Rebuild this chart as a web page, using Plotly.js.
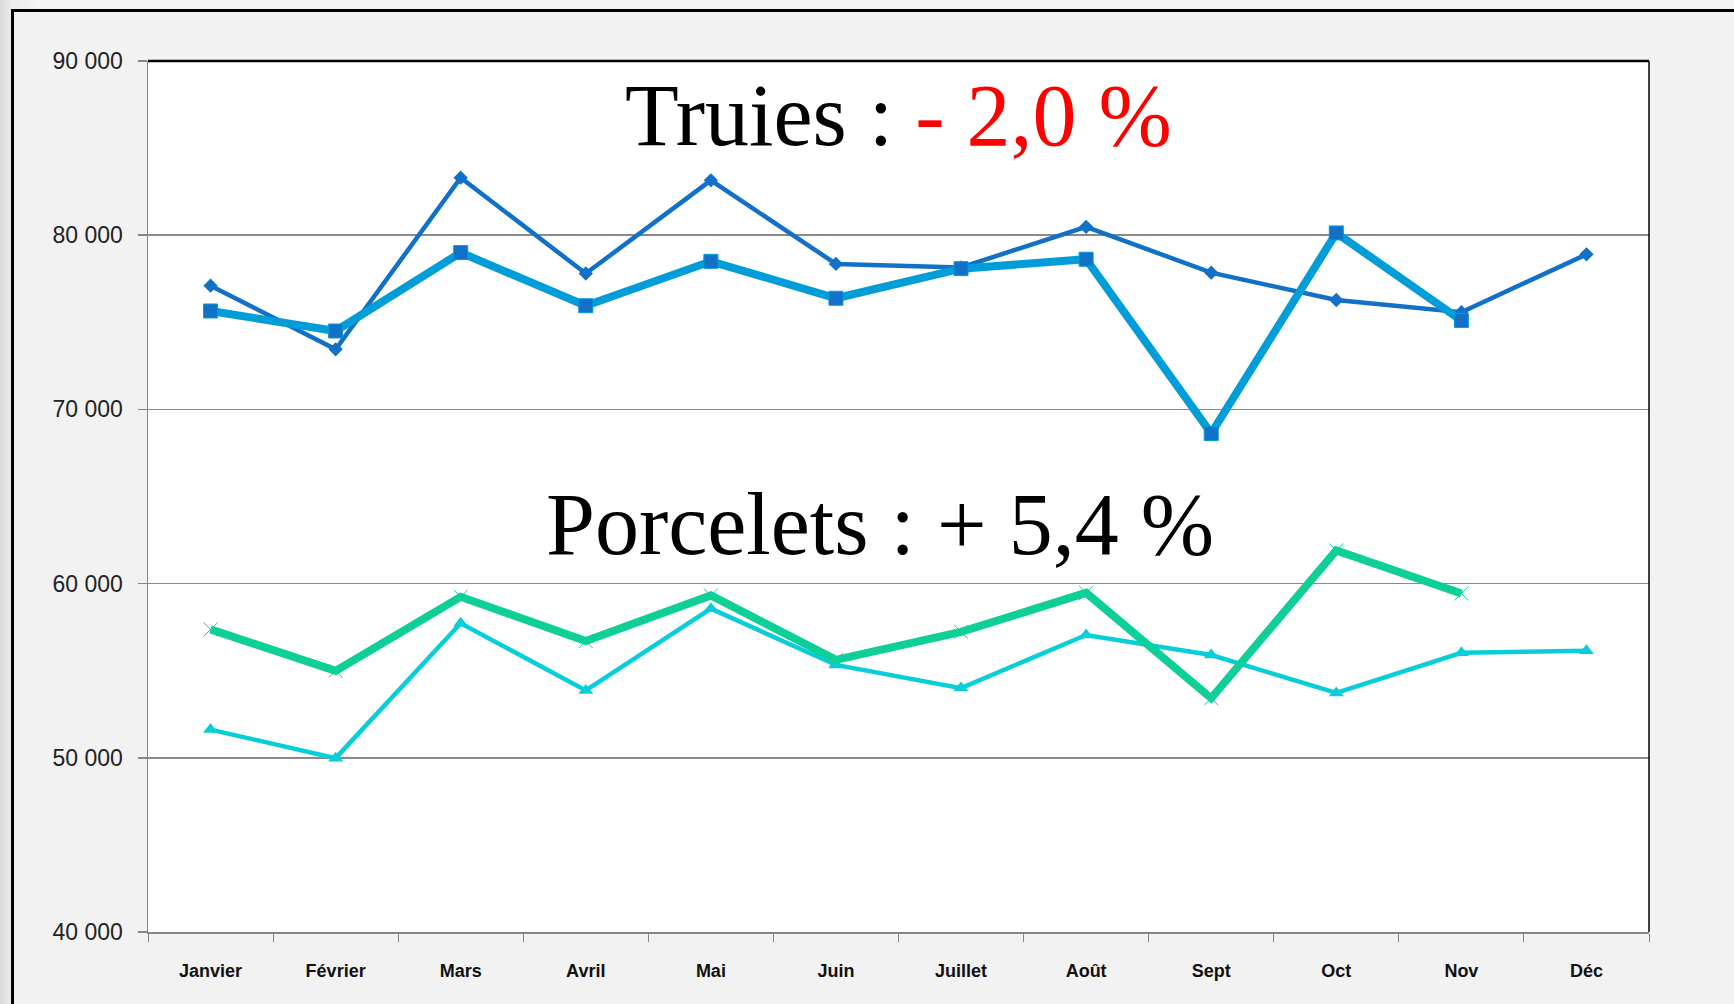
<!DOCTYPE html>
<html>
<head>
<meta charset="utf-8">
<script src="https://cdn.plot.ly/plotly-3.0.1.min.js"></script>
<style>
  html, body { margin:0; padding:0; width:1734px; height:1004px; overflow:hidden;
    background: linear-gradient(to right, #d9d9d9 0px, #ececec 12px, #f4f4f4 40px); }
  #frame { position:absolute; left:11px; top:9px; width:1800px; height:1100px;
    border:3px solid #000; background:#f2f2f2; box-sizing:border-box; }
  #chart { position:absolute; left:0; top:0; width:1734px; height:1004px; }
</style>
</head>
<body>
<div id="frame"></div>
<div id="chart"></div>
<script>
const months = ['Janvier','Février','Mars','Avril','Mai','Juin','Juillet','Août','Sept','Oct','Nov','Déc'];
const truiesA = [77100, 73450, 83300, 77800, 83150, 78350, 78150, 80480, 77850, 76280, 75580, 78900];
const truiesB = [75650, 74500, 79000, 75950, 78500, 76380, 78080, 78620, 68620, 80130, 75100];
const porceletsA = [51620, 49980, 57720, 53870, 58560, 55330, 54000, 57050, 55900, 53720, 56030, 56150];
const porceletsB = [57370, 54990, 59240, 56700, 59320, 55620, 57230, 59470, 53420, 61900, 59430];
const yTicks = [40000, 50000, 60000, 70000, 80000, 90000];

const darkBlue = '#1170C8', lightBlue = '#009DD9', cyan = '#08CEDA', green = '#0ECF98';

const traces = [
  {x: months, y: truiesA, mode:'lines+markers', line:{color:darkBlue, width:4.5},
   marker:{symbol:'diamond', size:11, color:darkBlue}},
  {x: months, y: porceletsA, mode:'lines+markers', line:{color:cyan, width:4.5},
   marker:{symbol:'triangle-up', size:13, color:cyan}},
  {x: months.slice(0, truiesB.length), y: truiesB, mode:'lines+markers', line:{color:lightBlue, width:8},
   marker:{symbol:'square', size:14, color:darkBlue, line:{color:lightBlue, width:1}}},
  {x: months.slice(0, porceletsB.length), y: porceletsB, mode:'lines+markers', line:{color:green, width:8},
   marker:{symbol:'x-thin', size:14, color:green, line:{color:green, width:1}}}
];

const layout = {
  width:1734, height:1004,
  margin:{l:148, r:85, t:61, b:72},
  paper_bgcolor:'rgba(0,0,0,0)', plot_bgcolor:'#ffffff',
  showlegend:false, separators:', ',
  xaxis:{type:'category', range:[-0.5, 11.5], showgrid:false, showline:true, linecolor:'#868686', linewidth:1.5,
    ticks:'outside', tickson:'boundaries', ticklen:8, tickcolor:'#868686', tickwidth:1,
    ticklabelstandoff:22,
    tickfont:{family:'Liberation Sans, Arial, sans-serif', size:18, color:'#111', weight:'bold'}},
  yaxis:{range:[40000, 90000], tickvals:yTicks, tickformat:',d', showgrid:true, gridcolor:'#8a8a8a', gridwidth:1.5,
    showline:true, linecolor:'#868686', linewidth:1.5, zeroline:false,
    ticks:'outside', ticklen:9, tickcolor:'#868686', tickwidth:1.5, ticklabelstandoff:10,
    tickfont:{family:'Liberation Sans, Arial, sans-serif', size:23, color:'#222'}},
  shapes:[
    {type:'line', xref:'paper', yref:'paper', x0:0, x1:1, y0:1, y1:1, line:{color:'#000', width:2.5}, layer:'above'},
    {type:'line', xref:'paper', yref:'paper', x0:1, x1:1, y0:0, y1:1, line:{color:'#000', width:1.5}, layer:'above'}
  ],
  annotations:[
    {xref:'paper', yref:'y', x:0.5, y:86850, xanchor:'center', yanchor:'middle', showarrow:false,
     text:'Truies : <span style="color:#FF0000">- 2,0 %</span>',
     font:{family:'Liberation Serif, Times New Roman, serif', size:88, color:'#000'}},
    {xref:'paper', yref:'y', x:0.488, y:63400, xanchor:'center', yanchor:'middle', showarrow:false,
     text:'Porcelets : + 5,4 %',
     font:{family:'Liberation Serif, Times New Roman, serif', size:88, color:'#000'}}
  ],
  hovermode:false
};

Plotly.newPlot('chart', traces, layout, {displayModeBar:false, staticPlot:true});
</script>
</body>
</html>
